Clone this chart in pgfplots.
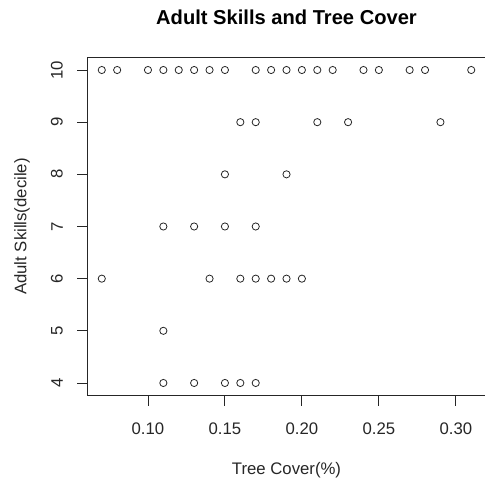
\documentclass[border=0pt]{standalone}
\usepackage{fontspec}
\setmainfont{Liberation Sans}
\usepackage{pgfplots}
\pgfplotsset{compat=1.18}
\begin{document}
\begin{tikzpicture}[x=1bp,y=1bp]
\begin{axis}[
  at={(87bp,86.5bp)}, anchor=south west,
  scale only axis, width=399bp, height=338bp,
  xmin=0.0604, xmax=0.3196, ymin=3.76, ymax=10.24,
  xtick={0.10,0.15,0.20,0.25,0.30},
  xticklabels={0.10,0.15,0.20,0.25,0.30},
  ytick={4,5,6,7,8,9,10},
  xtick pos=lower, ytick pos=left,
  tick align=outside, major tick length=10bp,
  axis line style={line width=0.9bp, black!85},
  every tick/.style={line width=0.9bp, black!85},
  /pgf/number format/assume math mode=true,
  tick label style={font=\fontsize{16.8}{20}\selectfont, text=black!85},
  xticklabel style={inner sep=0pt, yshift=-17bp},
  yticklabel style={rotate=90, anchor=south, inner sep=0pt, yshift=14bp},
  xlabel={Tree Cover(\%)},
  ylabel={Adult Skills(decile)},
  label style={font=\fontsize{16.8}{20}\selectfont, text=black!85},
  xlabel style={at={(axis description cs:0.5,-0.221)}, anchor=center},
  ylabel style={at={(axis description cs:-0.163,0.5)}, anchor=center, rotate=0},
  title={Adult Skills and Tree Cover},
  title style={at={(axis description cs:0.5,1.102)}, anchor=center, font=\bfseries\fontsize{20.2}{24}\selectfont},
  clip=false,
]
\addplot[only marks, mark=o, mark size=3.6bp, mark options={line width=0.8bp, black!85}] coordinates {
(0.07,10) (0.08,10) (0.10,10) (0.11,10) (0.12,10) (0.13,10) (0.14,10) (0.15,10)
(0.17,10) (0.18,10) (0.19,10) (0.20,10) (0.21,10) (0.22,10) (0.24,10) (0.25,10)
(0.27,10) (0.28,10) (0.31,10)
(0.16,9) (0.17,9) (0.21,9) (0.23,9) (0.29,9)
(0.15,8) (0.19,8)
(0.11,7) (0.13,7) (0.15,7) (0.17,7)
(0.07,6) (0.14,6) (0.16,6) (0.17,6) (0.18,6) (0.19,6) (0.20,6)
(0.11,5)
(0.11,4) (0.13,4) (0.15,4) (0.16,4) (0.17,4)
};
\end{axis}
\pgfresetboundingbox
\useasboundingbox (0,0) rectangle (485,482);
\end{tikzpicture}
\end{document}
